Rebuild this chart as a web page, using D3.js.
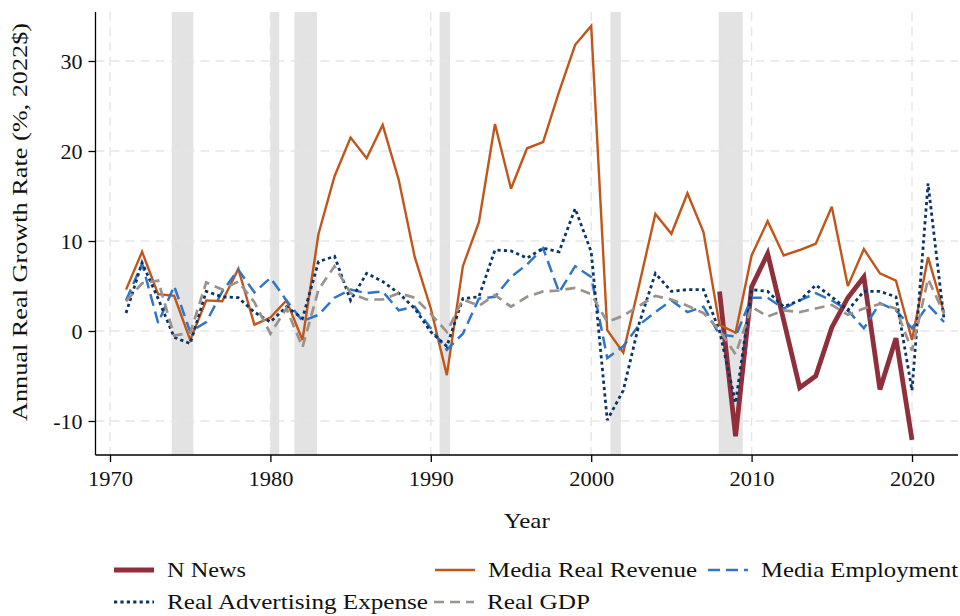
<!DOCTYPE html>
<html><head><meta charset="utf-8">
<script src="https://cdn.jsdelivr.net/npm/d3@7"></script>
<style>
body{margin:0;background:#fff;}
svg text{font-family:"Liberation Serif","Times New Roman",serif;fill:#111;}
</style></head>
<body><svg id="c" width="960" height="616"></svg>
<script>
const years = d3.range(1971, 2023);
const revenue = [4.6,8.8,4.1,3.9,-1.0,3.4,3.3,6.9,0.7,1.5,3.4,-1.0,10.8,17.2,21.5,19.2,22.9,16.8,8.2,2.5,-4.9,7.2,12.1,23.0,15.8,20.3,21.0,26.6,31.8,33.9,0.1,-2.4,5.2,13.0,10.8,15.3,11.0,0.7,-0.2,8.4,12.2,8.4,9.0,9.7,13.8,5.0,9.1,6.4,5.6,-1.0,8.2,2.0];
const employment = [3.4,7.5,0.9,5.0,-0.1,1.0,4.4,6.8,4.3,5.9,3.4,1.1,1.8,3.7,4.6,4.2,4.4,2.3,2.7,0.3,-2.1,-0.3,3.6,3.8,6.0,7.4,9.2,4.3,7.2,6.0,-3.0,-1.7,0.7,2.1,3.4,2.1,2.7,-0.4,-0.6,3.7,3.7,2.5,3.4,4.2,3.4,2.3,0.3,3.1,2.3,0.3,2.9,1.0];
const advertising = [2.0,7.6,3.6,-0.7,-1.4,4.4,3.8,3.7,2.1,1.0,2.7,1.4,7.7,8.3,3.4,6.4,5.5,4.2,2.5,-0.1,-1.7,3.6,3.8,9.0,8.9,8.1,9.2,8.8,13.6,8.8,-9.9,-6.6,0.9,6.4,4.4,4.6,4.6,0.0,-8.0,4.6,4.4,2.7,3.4,5.1,3.8,2.3,4.4,4.4,3.8,-6.6,16.4,1.2];
const gdp = [3.3,5.3,5.6,-0.5,-0.2,5.4,4.6,5.5,3.2,-0.3,2.5,-1.8,4.6,7.2,4.2,3.5,3.5,4.2,3.7,1.9,-0.1,3.5,2.8,4.0,2.7,3.8,4.4,4.5,4.8,4.1,1.0,1.7,2.8,3.9,3.5,2.8,2.0,0.1,-2.6,2.7,1.6,2.3,2.1,2.5,2.9,1.8,2.5,3.0,2.5,-2.2,5.8,1.9];
const newsYears = d3.range(2008, 2021);
const nNews = [4.4,-11.7,4.9,8.6,1.2,-6.3,-5.0,0.4,3.7,6.0,-6.5,-0.8,-12.1];
const recessions = [[1973.85,1975.2],[1980.0,1980.55],[1981.5,1982.9],[1990.55,1991.2],[2001.2,2001.85],[2007.95,2009.45]];
const xTicks = [1970,1980,1990,2000,2010,2020];
const yTicks = [-10,0,10,20,30];

const series = [
  {name:"N News", xs:newsYears, ys:nNews, color:"#8e2f3b", width:4.8, dash:null, tl:79},
  {name:"Media Real Revenue", xs:years, ys:revenue, color:"#c1561b", width:2.4, dash:null, tl:209},
  {name:"Media Employment", xs:years, ys:employment, color:"#2f76c8", width:2.5, dash:"12,6", tl:197},
  {name:"Real Advertising Expense", xs:years, ys:advertising, color:"#0b3567", width:2.8, dash:"3.2,3.2", tl:261},
  {name:"Real GDP", xs:years, ys:gdp, color:"#9c928c", width:2.7, dash:"10,6", tl:103}
];

const L=95.5, R=958, T=12, B=455;
const x = d3.scaleLinear().domain([1970 - 14.5/16.04, 1970 + (R-110)/16.04]).range([L, R]);
const y = d3.scaleLinear().domain([-(B-331)/9, (331-T)/9]).range([B, T]);
const svg = d3.select("#c");

svg.append("g").selectAll("rect").data(recessions).join("rect")
  .attr("x", d=>x(d[0])).attr("width", d=>x(d[1])-x(d[0]))
  .attr("y", T).attr("height", B-T).attr("fill", "#e3e3e3");

const grid = svg.append("g").attr("stroke","#e6e6e6").attr("stroke-width",1.4).attr("stroke-dasharray","9,6");
grid.selectAll(".gy").data(yTicks).join("line")
  .attr("x1", L).attr("x2", R).attr("y1", d=>y(d)).attr("y2", d=>y(d));
grid.selectAll(".gx").data(xTicks).join("line")
  .attr("y1", T).attr("y2", B).attr("x1", d=>x(d)).attr("x2", d=>x(d));

const lineGen = s => d3.line().x((d,i)=>x(s.xs[i])).y(d=>y(d))(s.ys);
svg.append("g").selectAll("path").data(series).join("path")
  .attr("d", d=>lineGen(d)).attr("fill","none")
  .attr("stroke", d=>d.color).attr("stroke-width", d=>d.width)
  .attr("stroke-dasharray", d=>d.dash).attr("stroke-linejoin","miter").attr("stroke-miterlimit",3);

const xAxis = svg.append("g").attr("transform", `translate(0,${B})`)
  .call(d3.axisBottom(x).tickValues(xTicks).tickFormat(d3.format("d")).tickSize(7).tickPadding(8));
const yAxis = svg.append("g").attr("transform", `translate(${L},0)`)
  .call(d3.axisLeft(y).tickValues(yTicks).tickFormat(d=>d<0?"-"+Math.abs(d):d).tickSize(7).tickPadding(6));
[xAxis,yAxis].forEach(a=>{
  a.select(".domain").attr("stroke","#000").attr("stroke-width",1.3);
  a.selectAll(".tick line").attr("stroke","#000").attr("stroke-width",1.3);
  a.selectAll("text").style("font-family","'Liberation Serif',serif").style("font-size","22px").attr("fill","#111");
});
xAxis.selectAll(".tick text").attr("textLength",45).attr("lengthAdjust","spacingAndGlyphs");
xAxis.select(".domain").attr("d", `M${L},0H${R}`);
yAxis.select(".domain").attr("d", `M0,${B}V${T}`);

svg.append("text").attr("x", (L+R)/2).attr("y", 528).attr("text-anchor","middle")
  .style("font-size","22px").attr("textLength",46).attr("lengthAdjust","spacingAndGlyphs").text("Year");
svg.append("text").attr("transform", `translate(27,222) rotate(-90)`).attr("text-anchor","middle")
  .style("font-size","22px").attr("textLength",398).attr("lengthAdjust","spacingAndGlyphs")
  .text("Annual Real Growth Rate (%, 2022$)");

const legendPos = [[114,570],[435,570],[708,570],[114,602],[434,602]];
const lg = svg.append("g");
series.forEach((s,i)=>{
  const [lx,ly] = legendPos[i];
  lg.append("line").attr("x1", lx).attr("x2", lx+40).attr("y1", ly).attr("y2", ly)
    .attr("stroke", s.color).attr("stroke-width", s.width).attr("stroke-dasharray", s.dash);
  lg.append("text").attr("x", lx+53).attr("y", ly+7).style("font-size","22px")
    .attr("textLength", s.tl).attr("lengthAdjust","spacingAndGlyphs").text(s.name);
});
</script></body></html>
